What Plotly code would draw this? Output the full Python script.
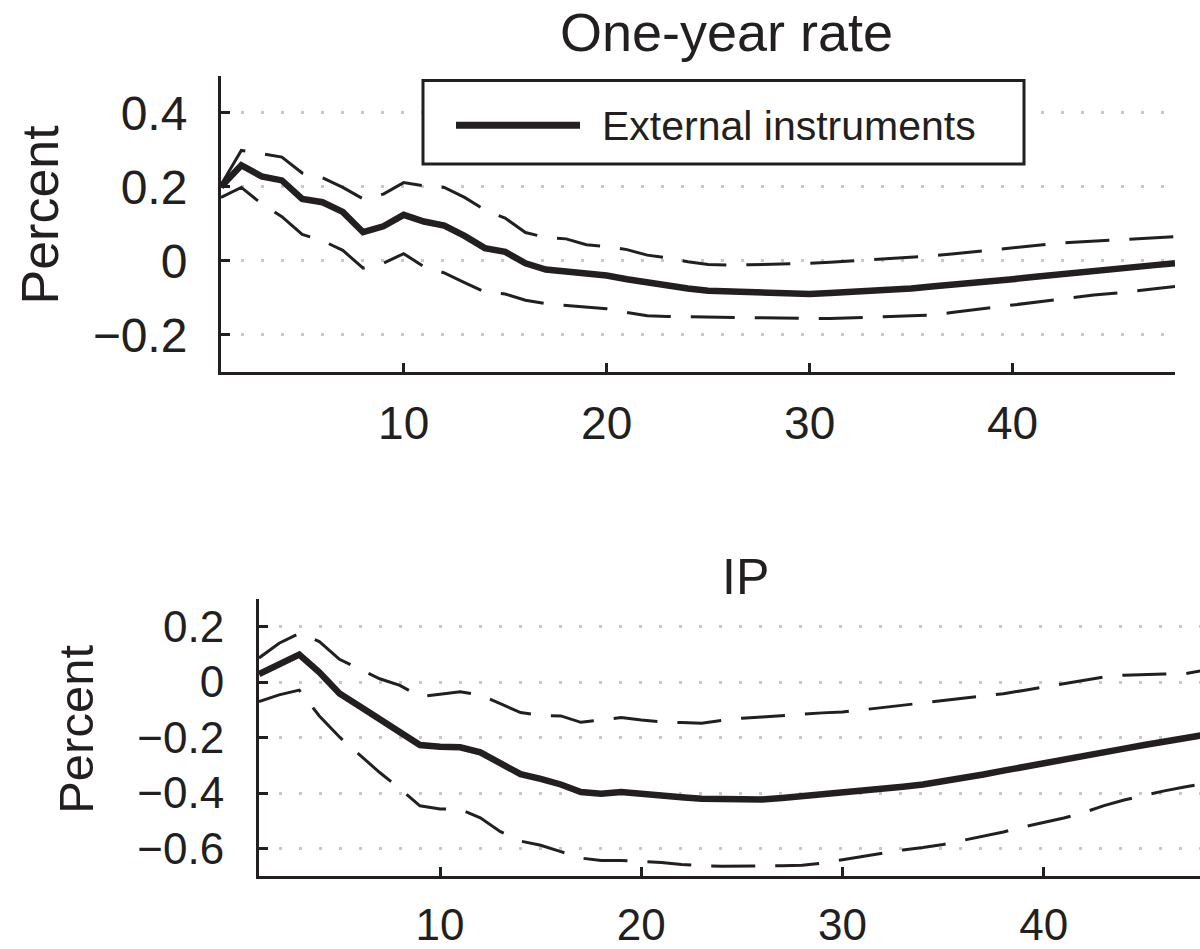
import plotly.graph_objects as go

# ---------------- data ----------------
horizon = list(range(1, 49))

rate_irf = [0.200, 0.258, 0.228, 0.217, 0.167, 0.158, 0.132, 0.077, 0.093, 0.124,
            0.106, 0.095, 0.067, 0.034, 0.024, -0.007, -0.024, -0.029, -0.037, -0.040,
            -0.050, -0.059, -0.066, -0.075, -0.081, -0.083, -0.085, -0.086, -0.087, -0.090,
            -0.087, -0.085, -0.083, -0.080, -0.075, -0.070, -0.066, -0.061, -0.056, -0.050,
            -0.044, -0.038, -0.032, -0.027, -0.022, -0.017, -0.012, -0.007]
rate_upper = [0.205, 0.298, 0.289, 0.280, 0.237, 0.224, 0.198, 0.167, 0.180, 0.211,
              0.202, 0.198, 0.171, 0.137, 0.115, 0.076, 0.063, 0.059, 0.043, 0.038,
              0.030, 0.015, 0.008, -0.003, -0.010, -0.012, -0.011, -0.010, -0.009, -0.007,
              -0.004, -0.001, 0.002, 0.005, 0.008, 0.013, 0.018, 0.024, 0.030, 0.035,
              0.040, 0.046, 0.050, 0.053, 0.056, 0.058, 0.061, 0.065]
rate_lower = [0.171, 0.198, 0.154, 0.119, 0.071, 0.054, 0.028, -0.020, -0.007, 0.019,
              -0.016, -0.033, -0.059, -0.085, -0.090, -0.107, -0.116, -0.120, -0.126, -0.130,
              -0.140, -0.149, -0.151, -0.152, -0.153, -0.153, -0.153, -0.154, -0.155, -0.156,
              -0.156, -0.155, -0.154, -0.151, -0.149, -0.147, -0.140, -0.133, -0.127, -0.120,
              -0.113, -0.105, -0.099, -0.093, -0.088, -0.083, -0.076, -0.070]

ip_irf = [0.029, 0.064, 0.099, 0.035, -0.041, -0.087, -0.134, -0.175, -0.227, -0.233,
          -0.235, -0.253, -0.295, -0.332, -0.349, -0.369, -0.396, -0.402, -0.396, -0.404,
          -0.408, -0.415, -0.420, -0.422, -0.423, -0.423, -0.418, -0.412, -0.405, -0.398,
          -0.393, -0.385, -0.377, -0.369, -0.358, -0.346, -0.333, -0.319, -0.305, -0.291,
          -0.278, -0.265, -0.252, -0.240, -0.227, -0.215, -0.202, -0.190]
ip_upper = [0.087, 0.140, 0.175, 0.146, 0.082, 0.047, 0.012, -0.012, -0.052, -0.044,
            -0.035, -0.046, -0.078, -0.110, -0.120, -0.122, -0.145, -0.137, -0.128, -0.137,
            -0.143, -0.146, -0.148, -0.138, -0.130, -0.126, -0.122, -0.116, -0.111, -0.108,
            -0.100, -0.092, -0.083, -0.074, -0.066, -0.059, -0.052, -0.042, -0.030, -0.018,
            -0.007, 0.005, 0.018, 0.025, 0.028, 0.029, 0.030, 0.043]
ip_lower = [-0.070, -0.046, -0.029, -0.122, -0.198, -0.262, -0.326, -0.384, -0.446, -0.457,
            -0.459, -0.489, -0.539, -0.573, -0.588, -0.611, -0.634, -0.643, -0.643, -0.646,
            -0.650, -0.657, -0.662, -0.664, -0.664, -0.663, -0.662, -0.660, -0.652, -0.640,
            -0.628, -0.618, -0.605, -0.596, -0.585, -0.570, -0.555, -0.540, -0.522, -0.505,
            -0.490, -0.470, -0.445, -0.425, -0.408, -0.392, -0.378, -0.365]

x_tick_values = [10, 20, 30, 40]
rate_tick_values = [-0.2, 0, 0.2, 0.4]
rate_tick_labels = ["\u22120.2", "0", "0.2", "0.4"]
ip_tick_values = [-0.6, -0.4, -0.2, 0, 0.2]
ip_tick_labels = ["\u22120.6", "\u22120.4", "\u22120.2", "0", "0.2"]

legend_label = "External instruments"
titles = ["One-year rate", "IP"]
y_title = "Percent"

# ---------------- style ----------------
INK = "#231f20"
FONT = "Liberation Sans, Arial, Helvetica, sans-serif"
W, H = 1200, 949


def px_x(p):
    return p / W


def px_y(p):
    return 1 - p / H


fig = go.Figure()

panels = [
    ("x", "y", rate_irf, rate_upper, rate_lower),
    ("x2", "y2", ip_irf, ip_upper, ip_lower),
]
for xa, ya, mid, up, lo in panels:
    for band in (up, lo):
        fig.add_trace(go.Scatter(
            x=horizon, y=band, xaxis=xa, yaxis=ya, mode="lines",
            line=dict(color=INK, width=3, dash="44px,20px"),
            showlegend=False, hoverinfo="skip"))
    fig.add_trace(go.Scatter(
        x=horizon, y=mid, xaxis=xa, yaxis=ya, mode="lines",
        name=legend_label,
        line=dict(color=INK, width=6.5),
        showlegend=False))

axis_common = dict(
    showline=True, linecolor=INK, linewidth=3,
    ticks="inside", ticklen=9, tickwidth=3, tickcolor=INK,
    zeroline=False, mirror=False,
    tickfont=dict(family=FONT, color=INK),
)
grid_common = dict(showgrid=True, gridcolor="#c8c8c8", gridwidth=3, griddash="3px,17px")

fig.update_layout(
    width=W, height=H,
    margin=dict(l=0, r=0, t=0, b=0),
    paper_bgcolor="white", plot_bgcolor="white",
    showlegend=False,
    font=dict(family=FONT, color=INK),
    xaxis=dict(domain=[px_x(221), px_x(1175)], range=[1, 48], anchor="y",
               tickvals=x_tick_values, showgrid=False, ticklabelstandoff=9,
               **axis_common),
    yaxis=dict(domain=[px_y(383), px_y(78)], range=[-0.3, 0.5], anchor="x",
               tickvals=rate_tick_values, ticktext=rate_tick_labels,
               ticklabelstandoff=21, **grid_common, **axis_common),
    xaxis2=dict(domain=[px_x(259), 1.0], range=[1, 47.77], anchor="y2",
                tickvals=x_tick_values, showgrid=False, ticklabelstandoff=8,
                **axis_common),
    yaxis2=dict(domain=[px_y(903), px_y(617)], range=[-0.7, 0.3], anchor="x2",
                tickvals=ip_tick_values, ticktext=ip_tick_labels,
                ticklabelstandoff=23, **grid_common, **axis_common),
)
fig.update_layout(
    xaxis_tickfont_size=46, yaxis_tickfont_size=48,
    xaxis2_tickfont_size=44, yaxis2_tickfont_size=44,
)

annotations = [
    dict(text=titles[0], x=px_x(726), y=1.0, xref="paper", yref="paper",
         xanchor="center", yanchor="top", showarrow=False,
         font=dict(size=54, family=FONT, color=INK)),
    dict(text=titles[1], x=px_x(745), y=px_y(595), xref="paper", yref="paper",
         xanchor="center", yanchor="middle", showarrow=False,
         font=dict(size=50, family=FONT, color=INK)),
    dict(text=y_title, x=px_x(40), y=px_y(221), xref="paper", yref="paper",
         xanchor="center", yanchor="middle", textangle=-90, showarrow=False,
         font=dict(size=52, family=FONT, color=INK)),
    dict(text=y_title, x=px_x(76), y=px_y(752), xref="paper", yref="paper",
         xanchor="center", yanchor="middle", textangle=-90, showarrow=False,
         font=dict(size=49, family=FONT, color=INK)),
    dict(text=legend_label, x=px_x(600), y=px_y(130), xref="paper", yref="paper",
         xanchor="left", yanchor="middle", showarrow=False,
         font=dict(size=41, family=FONT, color=INK)),
]
fig.update_layout(annotations=annotations)

shapes = [
    dict(type="rect", xref="paper", yref="paper",
         x0=px_x(423), x1=px_x(1024), y0=px_y(169), y1=px_y(83),
         line=dict(color=INK, width=3), fillcolor="white", layer="above"),
    dict(type="line", xref="paper", yref="paper",
         x0=px_x(456), x1=px_x(580), y0=px_y(129), y1=px_y(129),
         line=dict(color=INK, width=7), layer="above"),
]
fig.update_layout(shapes=shapes)

fig.write_html("out.html")
